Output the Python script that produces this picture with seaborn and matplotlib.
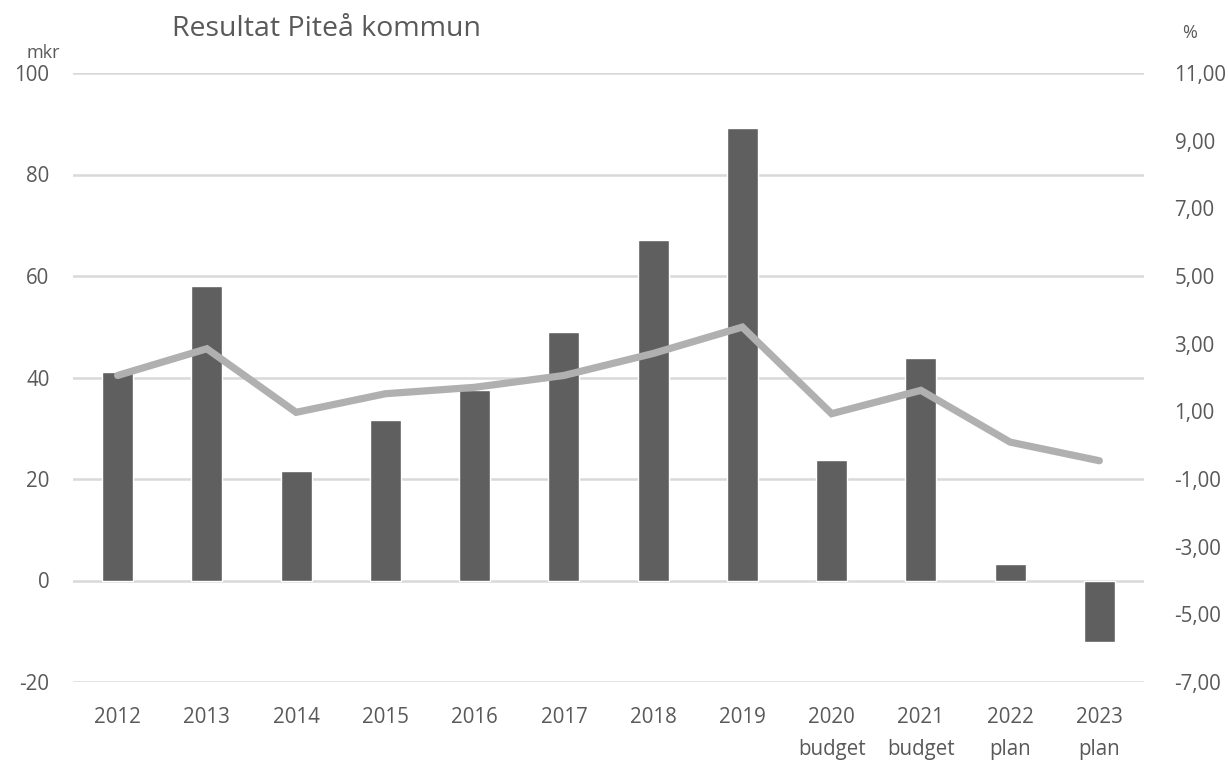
import numpy as np
import pandas as pd
import matplotlib
matplotlib.use("Agg")
import matplotlib.pyplot as plt
import seaborn as sns
from matplotlib.ticker import FuncFormatter

categories = ["2012", "2013", "2014", "2015", "2016", "2017", "2018", "2019",
              "2020\nbudget", "2021\nbudget", "2022\nplan", "2023\nplan"]
result_mkr = [41, 58, 21.5, 31.6, 37.5, 49, 67, 89.2, 23.7, 43.9, 3.3, -12.1]
result_pct = [2.06, 2.85, 0.97, 1.52, 1.71, 2.06, 2.71, 3.49, 0.93, 1.62, 0.09, -0.46]
left_ticks = [-20, 0, 20, 40, 60, 80, 100]
right_ticks = [-7, -5, -3, -1, 1, 3, 5, 7, 9, 11]

sns.set_theme(style="white")
plt.rcParams['font.family'] = ['Open Sans', 'DejaVu Sans']
text_color = "#595959"
tick_size = 14.8

df = pd.DataFrame({"year": categories, "mkr": result_mkr, "pct": result_pct})

fig = plt.figure(figsize=(12.28, 7.60), dpi=100)
ax = fig.add_axes([73/1228, 1-682/760, (1144-73)/1228, (682-73)/760])

sns.barplot(data=df, x="year", y="mkr", color="#5F5F5F", saturation=1,
            width=0.35, ax=ax, zorder=2)
ax.set_ylim(-20, 100)
ax.set_yticks(left_ticks)
ax.yaxis.set_major_formatter(FuncFormatter(lambda v, p: f"{int(round(v))}"))
ax.yaxis.grid(True, color="#D9D9D9", linewidth=1.8, zorder=0)
ax.set_axisbelow(True)
ax.set_xlim(-0.5, len(categories) - 0.5)
for s in ax.spines.values():
    s.set_visible(False)
ax.set_xlabel("")
ax.set_ylabel("")
ax.tick_params(axis="both", length=0, labelsize=tick_size, colors=text_color)
ax.tick_params(axis="y", pad=17)
ax.tick_params(axis="x", pad=18)
for lbl in ax.get_xticklabels():
    lbl.set_linespacing(1.7)
    lbl.set_verticalalignment("top")

ax2 = ax.twinx()
sns.lineplot(x=np.arange(len(categories)), y=df["pct"], color="#B0B0B0",
             linewidth=5.2, ax=ax2, solid_capstyle="round", solid_joinstyle="miter")
ax2.set_ylim(-7, 11)
ax2.set_yticks(right_ticks)
ax2.yaxis.set_major_formatter(FuncFormatter(lambda v, p: f"{v:.2f}".replace(".", ",")))
ax2.grid(False)
for s in ax2.spines.values():
    s.set_visible(False)
ax2.set_ylabel("")
ax2.tick_params(axis="y", length=0, labelsize=tick_size, colors=text_color, pad=22)
ax2.set_xlim(-0.5, len(categories) - 0.5)

fig.text(327/1228, 1-29/760, "Resultat Piteå kommun", ha="center", va="center",
         fontsize=20.5, color=text_color)
fig.text(43/1228, 1-53/760, "mkr", ha="center", va="center", fontsize=13, color=text_color)
fig.text(1190/1228, 1-33/760, "%", ha="center", va="center", fontsize=13, color=text_color)

fig.savefig("out.png", dpi=100, facecolor="white")
